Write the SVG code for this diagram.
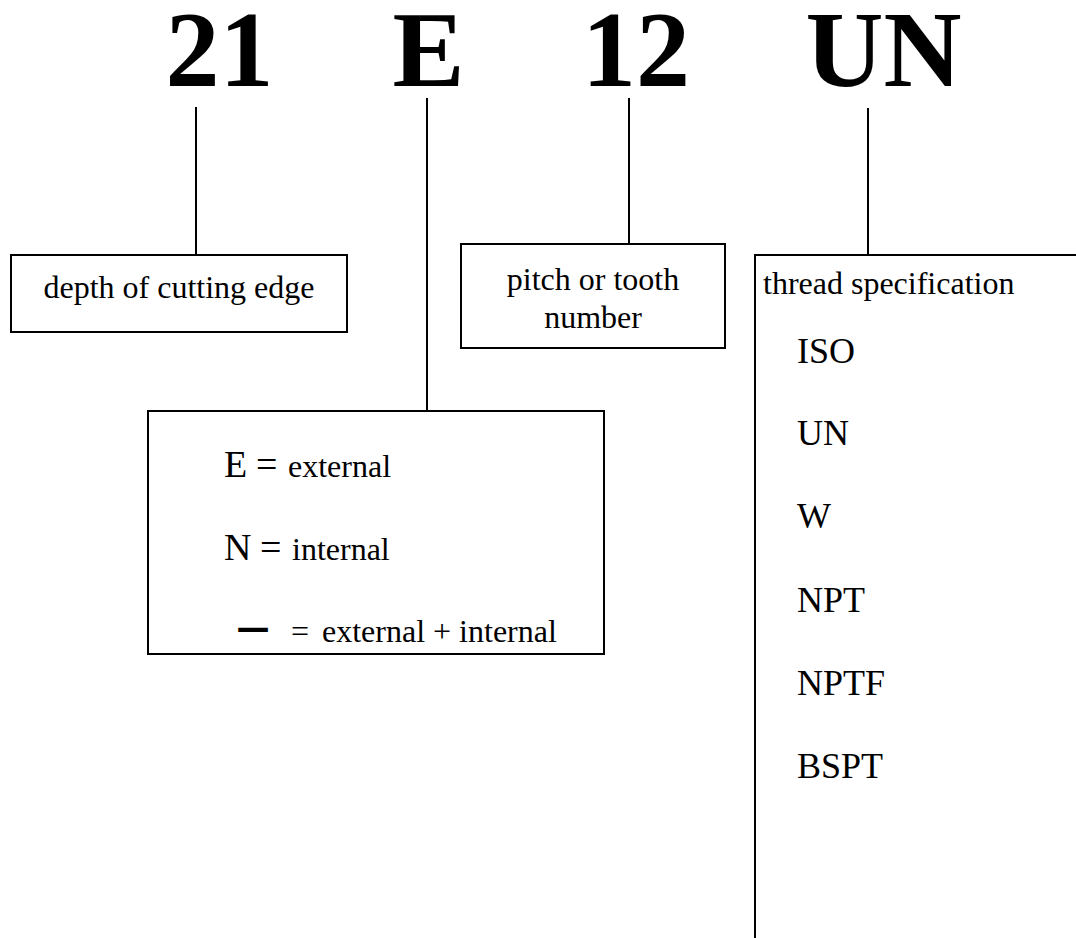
<svg xmlns="http://www.w3.org/2000/svg" width="1076" height="938" viewBox="0 0 1076 938">
  <style>
    .code { font-family: "Liberation Serif", "Times New Roman", serif; font-weight: bold; font-size: 108px; fill: #000; }
    .lbl { font-family: "Liberation Serif", "Times New Roman", serif; font-size: 32px; fill: #000; }
    .big { font-size: 38px; }
    .item { font-family: "Liberation Serif", "Times New Roman", serif; font-size: 36px; fill: #000; }
    .box { fill: #fff; stroke: #000; stroke-width: 2; }
    .wire { fill: none; stroke: #000; stroke-width: 2; }
  </style>

  <rect width="1076" height="938" fill="#fff"/>

  <!-- code designation -->
  <g id="code">
    <text class="code" x="219.5" y="86" text-anchor="middle">21</text>
    <text class="code" x="428.5" y="86" text-anchor="middle">E</text>
    <text class="code" x="636" y="86" text-anchor="middle">12</text>
    <text class="code" x="883.5" y="86" text-anchor="middle">UN</text>
  </g>

  <!-- leader lines from each code part to its explanation -->
  <g id="connectors">
    <line class="wire" x1="196" y1="107" x2="196" y2="255"/>
    <line class="wire" x1="427" y1="98" x2="427" y2="411"/>
    <line class="wire" x1="629" y1="98" x2="629" y2="244"/>
    <line class="wire" x1="868" y1="108" x2="868" y2="255"/>
  </g>

  <g id="depth">
    <rect class="box" x="11" y="255" width="336" height="77"/>
    <text class="lbl" x="179" y="298" text-anchor="middle">depth of cutting edge</text>
  </g>

  <g id="pitch">
    <rect class="box" x="461" y="244" width="264" height="104"/>
    <text class="lbl" x="593" y="290" text-anchor="middle">pitch or tooth</text>
    <text class="lbl" x="593" y="328" text-anchor="middle">number</text>
  </g>

  <g id="direction">
    <rect class="box" x="148" y="411" width="456" height="243"/>
    <text class="lbl" y="477"><tspan class="big" x="224">E</tspan><tspan class="big" x="256">=</tspan><tspan x="288">external</tspan></text>
    <text class="lbl" y="560"><tspan class="big" x="224">N</tspan><tspan class="big" x="260">=</tspan><tspan x="292">internal</tspan></text>
    <text class="lbl" y="642"><tspan x="237" style="font-family:'Noto Sans CJK SC',sans-serif;font-weight:bold">一</tspan><tspan x="291">=</tspan><tspan x="322">external + internal</tspan></text>
  </g>

  <!-- open frame: runs off the right and bottom edges -->
  <g id="thread">
    <path class="wire" d="M1076 255 H755 V938"/>
    <text class="lbl" x="763" y="294">thread specification</text>
    <text class="item" x="797" y="363">ISO</text>
    <text class="item" x="797" y="445">UN</text>
    <text class="item" x="797" y="528">W</text>
    <text class="item" x="797" y="612">NPT</text>
    <text class="item" x="797" y="695">NPTF</text>
    <text class="item" x="797" y="778">BSPT</text>
  </g>
</svg>
